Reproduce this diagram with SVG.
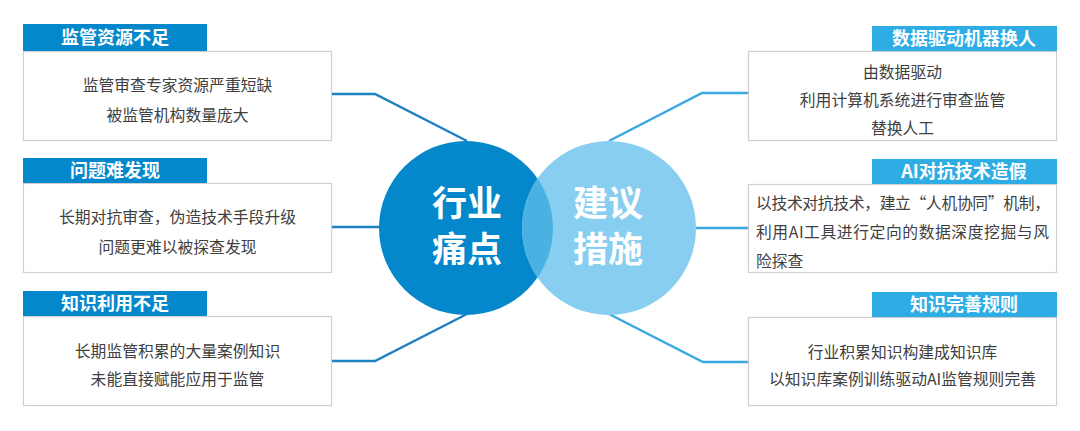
<svg xmlns="http://www.w3.org/2000/svg" width="1080" height="431" viewBox="0 0 1080 431">
<defs>
<style>
.box{fill:#fff;stroke:#cfcfcf;stroke-width:1.2}
.hl{fill:#0487cb}
.hr{fill:#2eade4}
.ht{font-family:"Noto Sans CJK SC",sans-serif;font-weight:bold;font-size:18px;fill:#fff;text-anchor:middle}
.bt{font-family:"Noto Sans CJK SC",sans-serif;font-size:15.8px;fill:#404040;text-anchor:middle}
.btl{font-family:"Noto Sans CJK SC",sans-serif;font-size:15.8px;fill:#404040}
.ct{font-family:"Noto Sans CJK SC",sans-serif;font-weight:bold;font-size:35px;fill:#fff;text-anchor:middle}
.cl{fill:none;stroke:#1f80c2;stroke-width:2.5}
.cr{fill:none;stroke:#3aa8e2;stroke-width:2.5}
</style>
<clipPath id="lc"><circle cx="466" cy="228" r="87"/></clipPath>
</defs>
<g id="connectors">
<polyline class="cl" points="332,94 375,94 467,141"/>
<polyline class="cl" points="332,227 382,227"/>
<polyline class="cl" points="332,361 375,361 467,314"/>
<polyline class="cr" points="748,93 702,93 609,141"/>
<polyline class="cr" points="748,228 694,228"/>
<polyline class="cr" points="748,362 703,362 609,314"/>
</g>
<g id="center">
<circle cx="466" cy="228" r="87" fill="#0587cb"/>
<circle cx="609" cy="228" r="87" fill="#87cef0"/>
<circle cx="609" cy="228" r="87" fill="#4ab2e3" clip-path="url(#lc)"/>
<text class="ct" x="467" y="216">行业</text>
<text class="ct" x="467" y="262">痛点</text>
<text class="ct" x="608" y="216">建议</text>
<text class="ct" x="608" y="262">措施</text>
</g>
<g id="box-l1">
<rect class="box" x="23.5" y="51.5" width="308" height="89"/>
<rect class="hl" x="23" y="24" width="184" height="27"/>
<text class="ht" x="115" y="44">监管资源不足</text>
<text class="bt" x="177.5" y="90.5">监管审查专家资源严重短缺</text>
<text class="bt" x="177.5" y="120.5">被监管机构数量庞大</text>
</g>
<g id="box-l2">
<rect class="box" x="23.5" y="183.5" width="308" height="89"/>
<rect class="hl" x="23" y="158" width="184" height="25"/>
<text class="ht" x="115" y="177">问题难发现</text>
<text class="bt" x="177.5" y="222.5">长期对抗审查，伪造技术手段升级</text>
<text class="bt" x="177.5" y="252.5">问题更难以被探查发现</text>
</g>
<g id="box-l3">
<rect class="box" x="23.5" y="316.5" width="308" height="89"/>
<rect class="hl" x="23" y="291" width="184" height="25"/>
<text class="ht" x="115" y="310">知识利用不足</text>
<text class="bt" x="177.5" y="356.5">长期监管积累的大量案例知识</text>
<text class="bt" x="177.5" y="384.5">未能直接赋能应用于监管</text>
</g>
<g id="box-r1">
<rect class="box" x="748.5" y="51.5" width="308" height="89"/>
<rect class="hr" x="872" y="26" width="185" height="25"/>
<text class="ht" x="964" y="45">数据驱动机器换人</text>
<text class="bt" x="902.5" y="77.5">由数据驱动</text>
<text class="bt" x="902.5" y="105.5">利用计算机系统进行审查监管</text>
<text class="bt" x="902.5" y="133.5">替换人工</text>
</g>
<g id="box-r2">
<rect class="box" x="748.5" y="184.5" width="308" height="88"/>
<rect class="hr" x="872" y="159" width="185" height="25"/>
<text class="ht" x="964" y="178">AI对抗技术造假</text>
<text class="btl" x="756" y="208.5" textLength="294" lengthAdjust="spacing">以技术对抗技术，建立“人机协同”机制，</text>
<text class="btl" x="756" y="237.5" textLength="293" lengthAdjust="spacing">利用AI工具进行定向的数据深度挖掘与风</text>
<text class="btl" x="756" y="266.5">险探查</text>
</g>
<g id="box-r3">
<rect class="box" x="748.5" y="317.5" width="308" height="88"/>
<rect class="hr" x="872" y="292" width="185" height="25"/>
<text class="ht" x="964" y="311">知识完善规则</text>
<text class="bt" x="902.5" y="357.5">行业积累知识构建成知识库</text>
<text class="bt" x="902.5" y="384.5">以知识库案例训练驱动AI监管规则完善</text>
</g>
</svg>
